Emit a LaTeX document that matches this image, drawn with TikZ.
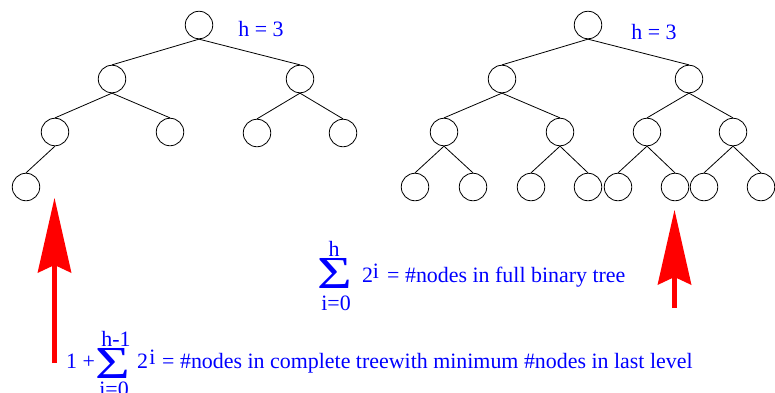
\documentclass[tikz,border=0pt]{standalone}
\usepackage{fontspec}
\setmainfont{Liberation Serif}
\usepackage{tikz}
\usetikzlibrary{arrows.meta}

\begin{document}
\begin{tikzpicture}[x=1bp,y=-1bp,
  vert/.style={circle,draw,line width=.8bp,minimum size=27.5bp,inner sep=0pt},
  lbl/.style={text=blue,font=\fontsize{22}{24}\selectfont,inner sep=0pt},
  sig/.style={text=blue,font=\fontsize{46}{46}\selectfont,inner sep=0pt,xscale=1.3},
  up/.style={red,line width=5.5bp,-{Stealth[length=75bp,width=34bp,inset=8bp,line width=0pt]}}]
\useasboundingbox (0,0) rectangle (775,392);

% tree with one node in last level
\node[vert] (a) at (199,25) {};
\node[vert] (a1) at (112,79) {};
\node[vert] (a2) at (300,79) {};
\node[vert] (a11) at (55,132) {};
\node[vert] (a12) at (170,132) {};
\node[vert] (a21) at (257,133) {};
\node[vert] (a22) at (343,133) {};
\node[vert] (a111) at (26,187) {};
\foreach \p/\c in {a/a1,a/a2,a1/a11,a1/a12,a2/a21,a2/a22,a11/a111}
  \draw[line width=.8bp] (\p.south)--(\c.north);
\node[lbl] (ha) at (261,29) {h = 3};

% full tree
\node[vert] (b) at (588,25) {};
\node[vert] (b1) at (502,79) {};
\node[vert] (b2) at (689,79) {};
\node[vert] (b11) at (444,132) {};
\node[vert] (b12) at (560,132) {};
\node[vert] (b21) at (647,132) {};
\node[vert] (b22) at (733,132) {};
\foreach \n/\x in {111/415,112/473,121/531,122/588,211/618,212/675,221/704,222/761}
  \node[vert] (b\n) at (\x,187) {};
\foreach \p/\c in {b/b1,b/b2,b1/b11,b1/b12,b2/b21,b2/b22,
  b11/b111,b11/b112,b12/b121,b12/b122,b21/b211,b21/b212,b22/b221,b22/b222}
  \draw[line width=.8bp] (\p.south)--(\c.north);
\node[lbl] (hb) at (654,32) {h = 3};

% arrows
\coordinate (l0) at (54.5,363);
\coordinate (l1) at (54.5,198);
\draw[up] (l0)--(l1);
\coordinate (r0) at (674.5,308);
\coordinate (r1) at (674.5,210);
\draw[up] (r0)--(r1);

% sum for full tree
\node[sig] (s1) at (334.5,273.5) {Σ};
\node[lbl] (s1top) at (334,249) {h};
\node[lbl] (s1bot) at (336,303) {i=0};
\node[lbl,anchor=base west] (s1two) at (362,282) {2};
\node[lbl] (s1exp) at (376,271) {i};
\node[lbl,anchor=base west] (s1txt) at (387,282) {= \#nodes in full binary tree};

% sum for complete tree
\node[lbl,anchor=base west] (s2one) at (66,368) {1 +};
\node[sig] (s2) at (113,363.5) {Σ};
\node[lbl] (s2top) at (116,339) {h-1};
\node[lbl] (s2bot) at (114,389) {i=0};
\node[lbl,anchor=base west] (s2two) at (137,368) {2};
\node[lbl] (s2exp) at (152.5,357.5) {i};
\node[lbl,anchor=base west] (s2txt) at (162,368) {= \#nodes in complete treewith minimum \#nodes in last level};
\end{tikzpicture}
\end{document}
